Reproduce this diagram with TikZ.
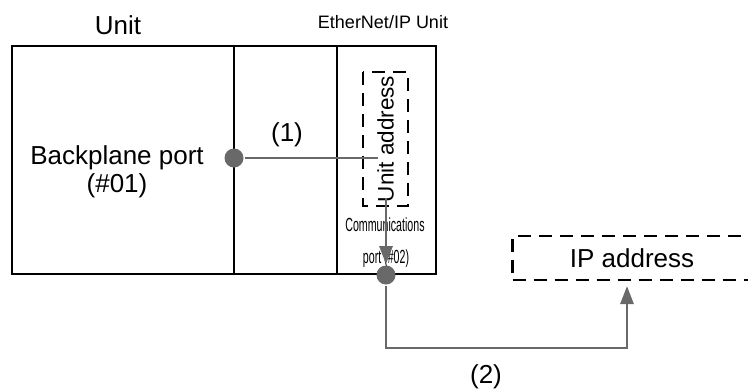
\documentclass[tikz,border=0pt]{standalone}
\usepackage{fontspec}
\setmainfont{Liberation Sans}
\newfontfamily\narrowfont[FakeStretch=0.56]{Liberation Sans}
\usetikzlibrary{arrows.meta}
\definecolor{linkgray}{RGB}{105,105,105}

\begin{document}
\begin{tikzpicture}[x=1pt,y=-1pt,line width=2.7pt,
  big/.style={font=\fontsize{26}{28}\selectfont},
  mid/.style={font=\fontsize{22.5}{24}\selectfont},
  small/.style={font=\fontsize{18}{21}\selectfont},
  narrow/.style={font=\narrowfont\fontsize{19}{21}\selectfont,anchor=base},
  dashbox/.style={draw,dash pattern=on 13pt off 8pt,line width=2.7pt,inner sep=0pt},
  portdot/.style={circle,fill=linkgray,inner sep=0pt,minimum size=19pt},
  link/.style={draw=linkgray,line width=2.7pt},
  tip/.style={-{Triangle[length=18pt,width=13pt]}}]
\useasboundingbox (0,0) rectangle (748,389);
\draw (12,46) rectangle (436,274);
\draw (234,46) -- (234,274);
\draw (337,46) -- (337,274);
\node[big] (unit) at (118,25) {Unit};
\node[small] (eipunit) at (383,22) {EtherNet/IP Unit};
\node[big,align=center] (bport) at (117,172) {Backplane port\\(\#01)};
\node[dashbox,mid,rotate=90,minimum width=134pt,minimum height=45pt] (uaddr) at (385.5,139) {Unit address};
\node[narrow] (comm) at (385,231) {Communications};
\node[narrow] (commno) at (386,263) {port (\#02)};
\node[dashbox,big,minimum width=239pt,minimum height=44pt] (ipaddr) at (632,258) {IP address};
\node[portdot] (bdot) at (234,158) {};
\node[portdot] (cdot) at (386,275) {};
\coordinate (uaddrin) at (378,158);
\coordinate (uaddrout) at (386,198);
\coordinate (iptip) at (627,286);
\draw[link] (bdot) -- (uaddrin);
\draw[link,tip] (uaddrout) -- (cdot);
\draw[link,tip] (cdot) -- ++(0,73) -| (iptip);
\node[big] (one) at (287,135) {(1)};
\node[big] (two) at (486,377) {(2)};
\end{tikzpicture}
\end{document}
